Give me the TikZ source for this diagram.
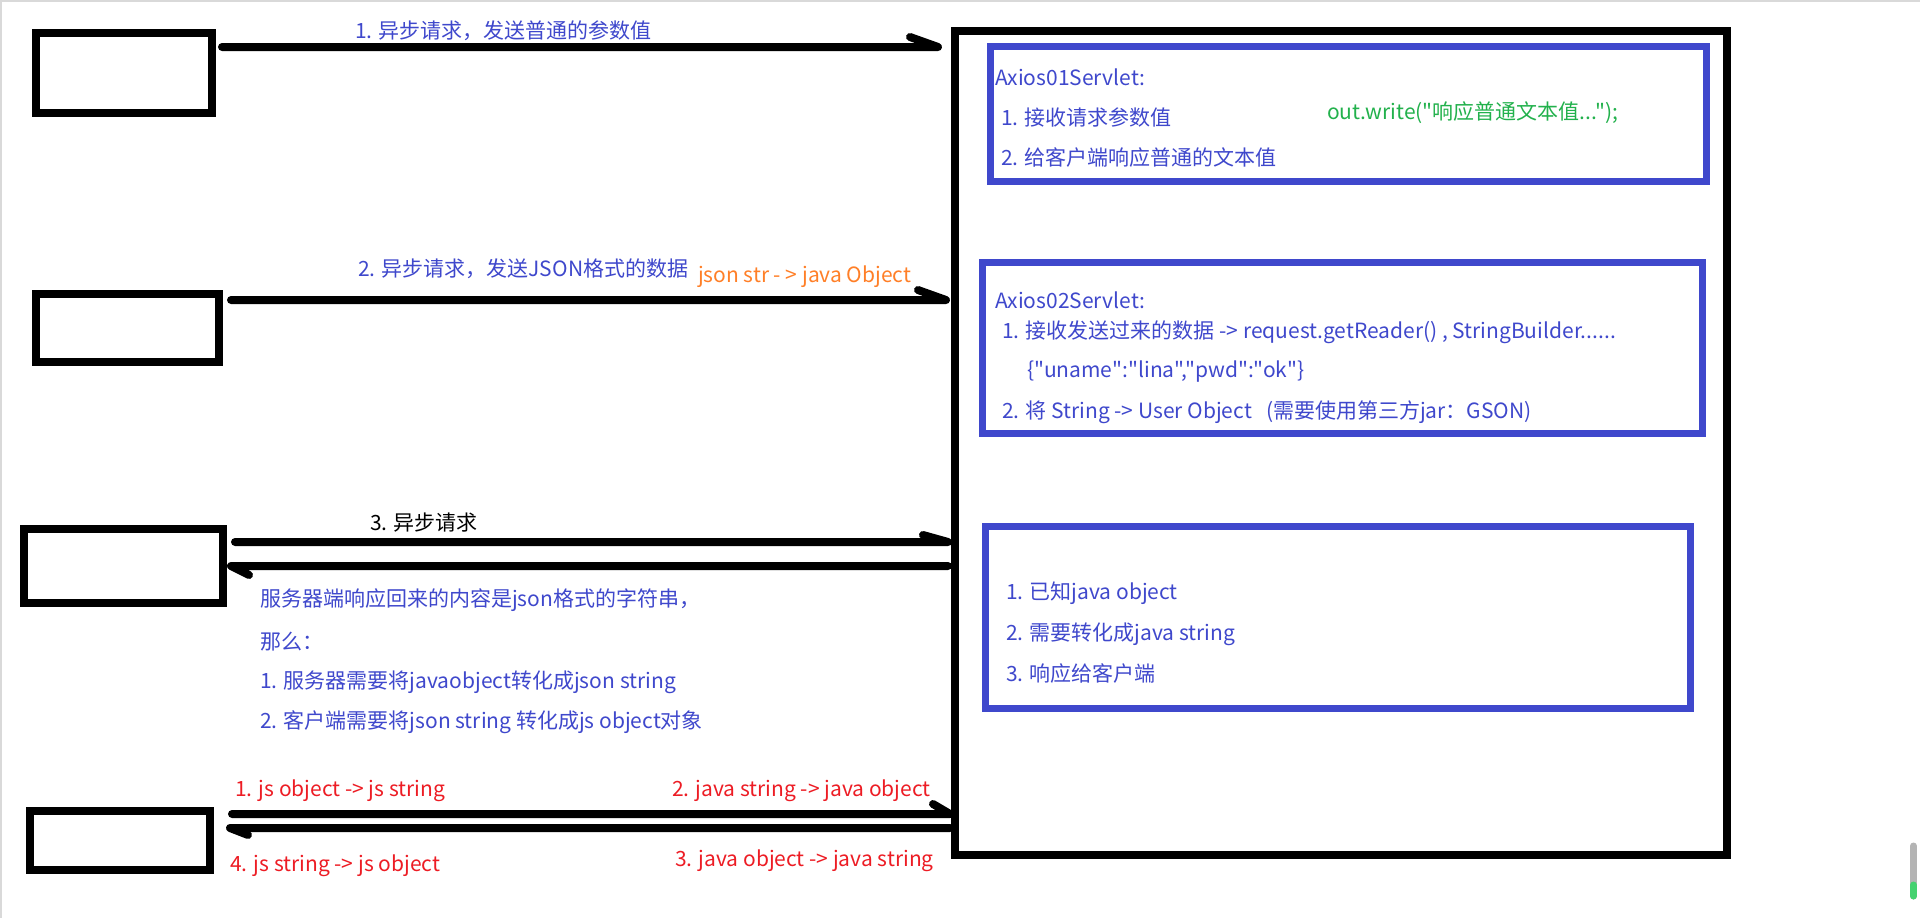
\documentclass[tikz,border=0pt]{standalone}
\usepackage{fontspec}
\setmainfont{Noto Sans CJK SC}[Ligatures=TeXOff]
\definecolor{pblue}{HTML}{3F48CC}
\definecolor{pgreen}{HTML}{22B14C}
\definecolor{porange}{HTML}{FF7F27}
\definecolor{pred}{HTML}{ED1C24}
\definecolor{sbgray}{HTML}{B4B4B4}
\definecolor{sbgreen}{HTML}{45D270}
\tikzset{
  client/.style={draw=black, line width=8pt, inner sep=0pt, outer sep=0pt},
  server/.style={draw=black, line width=8pt, inner sep=0pt, outer sep=0pt},
  servlet/.style={draw=pblue, line width=7pt, inner sep=0pt, outer sep=0pt},
  conn/.style={draw=black, line width=8pt, line cap=round, line join=round},
  txt/.style={anchor=west, inner sep=0pt, outer sep=0pt, font=\fontsize{21}{25}\selectfont},
  bluetxt/.style={txt, text=pblue},
  redtxt/.style={txt, text=pred},
}
\begin{document}
\begin{tikzpicture}[x=1pt,y=-1pt]
\useasboundingbox (0,0) rectangle (1920,918);
\fill[white] (0,0) rectangle (1920,918);
\draw[gray!30, line width=2pt] (1,918) -- (1,1) -- (1920,1);

% client boxes
\node[client, minimum width=176pt, minimum height=80pt] (b1) at (124,73) {};
\node[client, minimum width=183pt, minimum height=68pt] (b2) at (127.5,328) {};
\node[client, minimum width=199pt, minimum height=74pt] (b3) at (123.5,566) {};
\node[client, minimum width=180pt, minimum height=59pt] (b4) at (120,840.5) {};

% server box and servlet boxes
\node[server, minimum width=772pt, minimum height=824pt] (srv) at (1341,443) {};
\node[servlet, minimum width=716pt, minimum height=135pt] (s1) at (1348.5,114) {};
\node[servlet, minimum width=720pt, minimum height=171pt] (s2) at (1342.5,348) {};
\node[servlet, minimum width=705pt, minimum height=182pt] (s3) at (1338,617.5) {};

% connectors
\draw[conn] ([shift={(10,14)}]b1.north east) -- ([shift={(-17,14)}]b1.north east -| srv.west) -- ++(-28,-10);
\draw[conn] ([shift={(12,6)}]b2.north east) -- ([shift={(-9,6)}]b2.north east -| srv.west) -- ++(-28,-10);
\draw[conn] ([shift={(12,13)}]b3.north east) -- ([shift={(-7,13)}]b3.north east -| srv.west) -- ++(-25,-7);
\draw[conn] ([shift={(-7,37)}]b3.north east -| srv.west) -- ([shift={(8,37)}]b3.north east) -- ++(18,9);
\draw[conn] ([shift={(22,3)}]b4.north east) -- ([shift={(-5,3)}]b4.north east -| srv.west) -- ++(-17,-10);
\draw[conn] ([shift={(-5,17)}]b4.north east -| srv.west) -- ([shift={(20,17)}]b4.north east) -- ++(18,7);

% arrow labels
\node[bluetxt] (l1) at (355,31) {1. 异步请求，发送普通的参数值};
\node[bluetxt] (l2) at (358,269) {2. 异步请求，发送JSON格式的数据};
\node[txt, text=porange] (l2b) at (698,277) {json str - > java Object};
\node[txt, text=black] (l3) at (370,523) {3. 异步请求};

\node[bluetxt] (n1) at (260,600) {服务器端响应回来的内容是json格式的字符串，};
\node[bluetxt] (n2) at (260,642) {那么：};
\node[bluetxt] (n3) at (260,682) {1. 服务器需要将javaobject转化成json string};
\node[bluetxt] (n4) at (260,722) {2. 客户端需要将json string 转化成js object对象};

\node[redtxt] (r1) at (235,791) {1. js object -> js string};
\node[redtxt] (r2) at (672,791) {2. java string -> java object};
\node[redtxt] (r4) at (230,866) {4. js string -> js object};
\node[redtxt] (r3) at (675,861) {3. java object -> java string};

% servlet 1
\node[bluetxt] (s1a) at (995,77) {Axios01Servlet:};
\node[bluetxt] (s1b) at (1001,117) {1. 接收请求参数值};
\node[bluetxt] (s1c) at (1001,157) {2. 给客户端响应普通的文本值};
\node[txt, text=pgreen] (s1d) at (1327,113) {out.write("响应普通文本值...");};

% servlet 2
\node[bluetxt] (s2a) at (995,300) {Axios02Servlet:};
\node[bluetxt] (s2b) at (1002,332) {1. 接收发送过来的数据 -> request.getReader() , StringBuilder......};
\node[bluetxt] (s2c) at (1027,372) {\{"uname":"lina","pwd":"ok"\}};
\node[bluetxt] (s2d) at (1002,412) {2. 将 String -> User Object\hspace{14pt}(需要使用第三方jar：GSON)};

% servlet 3
\node[bluetxt] (s3a) at (1006,593) {1. 已知java object};
\node[bluetxt] (s3b) at (1006,634) {2. 需要转化成java string};
\node[bluetxt] (s3c) at (1006,673) {3. 响应给客户端};

% scrollbar
\draw[sbgray, line width=7pt, line cap=round] (1913.5,846) -- (1913.5,896);
\draw[sbgreen, line width=7pt, line cap=round] (1913.5,885) -- (1913.5,896);
\end{tikzpicture}
\end{document}
